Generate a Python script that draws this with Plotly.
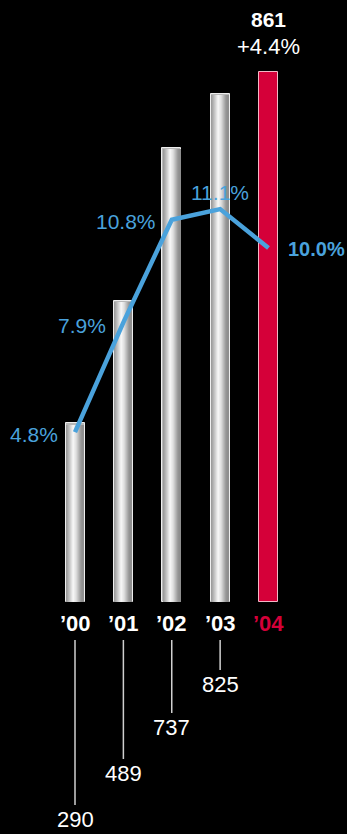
import plotly.graph_objects as go

years = ["’00", "’01", "’02", "’03", "’04"]
values = [290, 489, 737, 825, 861]
margins_pct = [4.8, 7.9, 10.8, 11.1, 10.0]
headline_value = "861"
headline_change = "+4.4%"

W, H = 347, 834
BASE_PX = 602          # pixel row of bar base
PX_PER_UNIT = 0.6158   # bar scale
PX_PER_PCT = 35.4      # line scale
X0_PX, X_STEP = 75, 48.375

y_range = [-(H - BASE_PX) / PX_PER_UNIT, BASE_PX / PX_PER_UNIT]
y2_range = [-(H - BASE_PX) / PX_PER_PCT, BASE_PX / PX_PER_PCT]
x_range = [-X0_PX / X_STEP, (W - X0_PX) / X_STEP]

BLUE = "#4aa2dc"
RED = "#d50039"
FONT = "Liberation Sans, Arial, sans-serif"

xs = list(range(len(years)))
bar_w = 19 / X_STEP
inner_w = 17 / X_STEP

fig = go.Figure()

# base bars (outline + fill)
fig.add_trace(go.Bar(
    x=xs, y=values, width=bar_w,
    marker=dict(color=["#b8b8b8"] * 4 + [RED],
                line=dict(color=["#eeeeee"] * 4 + ["#f2b8c6"], width=1)),
    hoverinfo="skip", showlegend=False,
))

# gradient slices for the grey bars
def lerp(a, b, t):
    return a + (b - a) * t

stops = [(0.0, 150), (0.12, 175), (0.42, 248), (0.6, 222), (0.88, 150), (1.0, 140)]

def shade(t):
    for (t0, c0), (t1, c1) in zip(stops[:-1], stops[1:]):
        if t0 <= t <= t1:
            return int(round(lerp(c0, c1, (t - t0) / (t1 - t0))))
    return stops[-1][1]

N = 17
sw = inner_w / N
gx = xs[:4]
gy = [v - 1.2 / PX_PER_UNIT for v in values[:4]]
for i in range(N):
    t = (i + 0.5) / N
    c = shade(t)
    fig.add_trace(go.Bar(
        x=gx, y=gy, width=sw * 1.08, offset=-inner_w / 2 + i * sw,
        marker=dict(color=f"rgb({c},{c},{c})", line=dict(width=0)),
        hoverinfo="skip", showlegend=False,
    ))

# margin line
fig.add_trace(go.Scatter(
    x=xs, y=margins_pct, yaxis="y2", mode="lines",
    line=dict(color=BLUE, width=4.5), hoverinfo="skip", showlegend=False,
))

ann = []
# percent labels
pct_pos = [
    dict(xanchor="right", xshift=-15, yshift=-2, bold=False, size=21),
    dict(xanchor="right", xshift=-15, yshift=-3, bold=False, size=21),
    dict(xanchor="right", xshift=-14, yshift=-2, bold=False, size=21),
    dict(xanchor="center", xshift=0, yshift=17, bold=False, size=21),
    dict(xanchor="left", xshift=17, yshift=-1, bold=True, size=20),
]
for x, p, pos in zip(xs, margins_pct, pct_pos):
    txt = f"{p:.1f}%"
    if pos["bold"]:
        txt = f"<b>{txt}</b>"
    ann.append(dict(x=x, y=p, xref="x", yref="y2", text=txt, showarrow=False,
                    xanchor=pos["xanchor"], yanchor="middle",
                    xshift=pos["xshift"], yshift=pos["yshift"],
                    font=dict(family=FONT, size=pos["size"], color=BLUE)))

# year labels
for x, yr in zip(xs, years):
    col = RED if x == len(years) - 1 else "white"
    ann.append(dict(x=x, y=0, xref="x", yref="y", text=f"<b>{yr}</b>",
                    showarrow=False, yanchor="middle", yshift=-21,
                    font=dict(family=FONT, size=22, color=col)))

# staggered value labels with leaders
drops = [217, 171, 125, 82]
for x, v, d in zip(xs[:4], values[:4], drops):
    ann.append(dict(x=x, y=0, xref="x", yref="y", text=str(v),
                    showarrow=True, arrowhead=0, arrowwidth=1.5,
                    arrowcolor="#d0d0d0", ax=0, ay=d, standoff=38,
                    font=dict(family=FONT, size=22, color="white")))

# headline above last bar
ann.append(dict(x=xs[-1], y=values[-1], xref="x", yref="y",
                text=f"<b>{headline_value}</b>", showarrow=False,
                yanchor="middle", yshift=52,
                font=dict(family=FONT, size=21, color="white")))
ann.append(dict(x=xs[-1], y=values[-1], xref="x", yref="y",
                text=headline_change, showarrow=False,
                yanchor="middle", yshift=25,
                font=dict(family=FONT, size=22, color="white")))

fig.update_layout(
    width=W, height=H,
    margin=dict(l=0, r=0, t=0, b=0),
    paper_bgcolor="black", plot_bgcolor="black",
    barmode="overlay", bargap=0,
    xaxis=dict(range=x_range, visible=False, fixedrange=True),
    yaxis=dict(range=y_range, visible=False, fixedrange=True),
    yaxis2=dict(range=y2_range, visible=False, overlaying="y", fixedrange=True),
    annotations=ann,
    showlegend=False,
)

fig.write_html("out.html", config={"displayModeBar": False})
